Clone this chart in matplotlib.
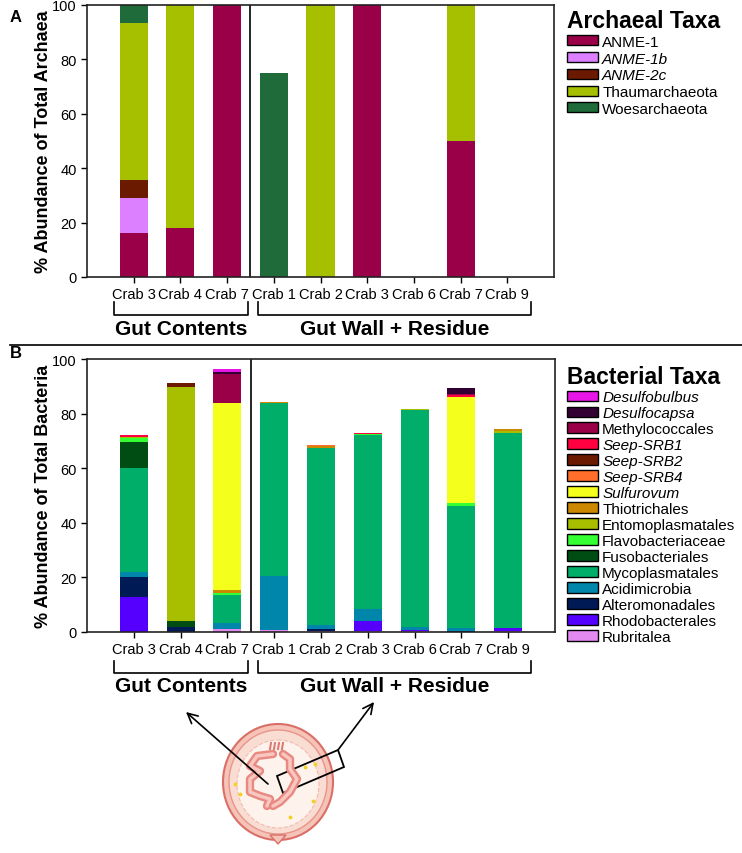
#!/usr/bin/env python3

'''Stacked bar plots of archaeal and bacterial taxa in crab gut samples.'''

import numpy as np
import matplotlib as mpl
import matplotlib.pyplot as plt
from matplotlib.patches import Ellipse, Polygon, Patch

# sample labels (3 gut contents, 6 gut wall + residue)
samples = ['Crab 3', 'Crab 4', 'Crab 7', 'Crab 1', 'Crab 2', 'Crab 3',
           'Crab 6', 'Crab 7', 'Crab 9']

# archaea, % of total, stacked bottom -> top in this order
arch_taxa = ['ANME-1', 'ANME-1b', 'ANME-2c', 'Thaumarchaeota', 'Woesarchaeota']
anme1 = [16, 18, 100, 0, 0, 100, 0, 50, 0]
anme1b = [13, 0, 0, 0, 0, 0, 0, 0, 0]
anme2c = [6.5, 0, 0, 0, 0, 0, 0, 0, 0]
thaum = [58, 82, 0, 0, 100, 0, 0, 50, 0]
woes = [6.5, 0, 0, 75, 0, 0, 0, 0, 0]
arch_colors = ['#990047', '#dd80ff', '#6b1a00', '#a6c000', '#1f6b3a']
arch_italic = ['ANME-1b', 'ANME-2c']

# bacteria, % of total, listed in legend order (stacked in reverse)
bact_taxa = ['Desulfobulbus', 'Desulfocapsa', 'Methylococcales', 'Seep-SRB1',
             'Seep-SRB2', 'Seep-SRB4', 'Sulfurovum', 'Thiotrichales',
             'Entomoplasmatales', 'Flavobacteriaceae', 'Fusobacteriales',
             'Mycoplasmatales', 'Acidimicrobia', 'Alteromonadales',
             'Rhodobacterales', 'Rubritalea']
desulfobulbus = [0, 0, 1.3, 0, 0, 0, 0, 0, 0]
desulfocapsa = [0, 0, 0.7, 0, 0, 0, 0, 2.0, 0]
methylococcales = [0, 0, 10.6, 0, 0, 0, 0, 0.5, 0]
seep_srb1 = [0.5, 0, 0, 0, 0, 0.3, 0, 0.6, 0]
seep_srb2 = [0, 1.4, 0, 0, 0, 0, 0, 0, 0]
seep_srb4 = [0, 0, 0, 0, 0.3, 0, 0, 0, 0]
sulfurovum = [0, 0, 68.6, 0, 0, 0.3, 0, 39.1, 0]
thiotrichales = [0, 0, 0.9, 0.3, 0.6, 0, 0, 0, 0.8]
entomoplasmatales = [0.5, 85.9, 0, 0, 0, 0, 0.3, 0, 0.5]
flavobacteriaceae = [1.3, 0, 1.0, 0, 0, 0.4, 0, 0.8, 0]
fusobacteriales = [9.8, 1.9, 0, 0, 0, 0, 0, 0, 0]
mycoplasmatales = [37.9, 0, 10.1, 63.5, 64.8, 63.6, 79.6, 44.8, 71.7]
acidimicrobia = [1.8, 0, 2.3, 19.9, 1.7, 4.2, 0.9, 1.0, 0]
alteromonadales = [7.2, 2.0, 0, 0, 0.7, 0, 0, 0.5, 0]
rhodobacterales = [13.0, 0, 0, 0, 0, 3.7, 0.5, 0, 0.8]
rubritalea = [0, 0, 1.0, 0.6, 0.3, 0.5, 0.3, 0, 0.5]
bact_colors = ['#e817e8', '#330033', '#990047', '#ff0040', '#6b1a00',
               '#ff6e2b', '#f5ff1c', '#cc8800', '#a8bf00', '#33ff33',
               '#004d14', '#00ad69', '#0086aa', '#001a55', '#5500ff',
               '#e28af0']
bact_italic = ['Desulfobulbus', 'Desulfocapsa', 'Seep-SRB1', 'Seep-SRB2',
               'Seep-SRB4', 'Sulfurovum']


def stacked(ax, series, colors):
    '''Stack the series bottom -> top on ax.'''
    x = np.arange(1, len(samples) + 1)
    bottom = np.zeros(len(samples))
    for vals, col in zip(series, colors):
        vals = np.array(vals, dtype=float)
        ax.bar(x, vals, 0.6, bottom=bottom, color=col, linewidth=0)
        bottom += vals


def style_axes(ax, ylabel):
    ax.set_xlim(0, 10)
    ax.set_ylim(0, 100)
    ax.set_xticks(np.arange(1, len(samples) + 1))
    ax.set_xticklabels(samples, fontsize=10.5)
    ax.set_yticks(np.arange(0, 101, 20))
    ax.tick_params(axis='y', labelsize=10.5)
    ax.tick_params(direction='out', length=4, width=1)
    ax.axvline(3.5, color='black', lw=1.2)
    for sp in ax.spines.values():
        sp.set_linewidth(1.2)
        sp.set_color('#222222')
    ax.set_ylabel(ylabel, fontsize=13, fontweight='bold')
    ax.yaxis.set_label_coords(-0.074, 0.5)


def taxa_legend(fig, taxa, colors, italic, title, y, spacing):
    handles = [Patch(facecolor=c, edgecolor='black', lw=1) for c in colors]
    leg = fig.legend(handles, taxa, loc='upper left', frameon=False,
                     bbox_to_anchor=(567 / 742, 1 - y / 854), fontsize=11,
                     title=title, borderpad=0, handlelength=2.0,
                     handleheight=0.65, handletextpad=0.3,
                     labelspacing=spacing, borderaxespad=0)
    leg.get_title().set_fontsize(16.5)
    leg.get_title().set_fontweight('bold')
    leg._legend_box.align = 'left'
    for t in leg.get_texts():
        if t.get_text() in italic:
            t.set_style('italic')
    return leg


def do_plotting(savefig='out.png', dpi=100, l=742, w=854):
    mpl.rcParams['font.family'] = ['Liberation Sans', 'DejaVu Sans']

    fig = plt.figure(figsize=(l / dpi, w / dpi), dpi=dpi)

    ax_a = fig.add_axes([87 / l, 1 - 278 / w, 467 / l, 272 / w])
    stacked(ax_a, [anme1, anme1b, anme2c, thaum, woes], arch_colors)
    style_axes(ax_a, '% Abundance of Total Archaea')

    ax_b = fig.add_axes([87 / l, 1 - 633 / w, 468 / l, 273 / w])
    bact_series = [desulfobulbus, desulfocapsa, methylococcales, seep_srb1,
                   seep_srb2, seep_srb4, sulfurovum, thiotrichales,
                   entomoplasmatales, flavobacteriaceae, fusobacteriales,
                   mycoplasmatales, acidimicrobia, alteromonadales,
                   rhodobacterales, rubritalea]
    stacked(ax_b, bact_series[::-1], bact_colors[::-1])
    style_axes(ax_b, '% Abundance of Total Bacteria')

    taxa_legend(fig, arch_taxa, arch_colors, arch_italic, 'Archaeal Taxa',
                10, 0.18)
    taxa_legend(fig, bact_taxa, bact_colors, bact_italic, 'Bacterial Taxa',
                366, 0.13)

    # overlay in pixel coordinates for brackets, labels and the drawing
    ov = fig.add_axes([0, 0, 1, 1], zorder=5)
    ov.set_xlim(0, l)
    ov.set_ylim(w, 0)
    ov.axis('off')
    ov.patch.set_alpha(0)

    for top, bot, txt_y in [(303, 316, 330), (662, 674, 687)]:
        for x0, x1, name in [(114, 248, 'Gut Contents'),
                             (258, 531, 'Gut Wall + Residue')]:
            ov.plot([x0, x0, x1, x1], [top, bot, bot, top], color='black',
                    lw=1.2)
            ov.text((x0 + x1) / 2, txt_y, name, ha='center', va='center',
                    fontsize=15, fontweight='bold')

    ov.plot([10, 742], [346, 346], color='black', lw=1.2)
    ov.text(10, 17, 'A', fontsize=12, fontweight='bold', va='center')
    ov.text(10, 354, 'B', fontsize=12, fontweight='bold', va='center')

    # crab gut cross-section sketch
    cx, cy = 278, 783
    ov.add_patch(Ellipse((cx, cy), 110, 116, facecolor='#f5c3b8',
                         edgecolor='#d96f66', lw=1.5))
    ov.add_patch(Ellipse((cx, cy), 98, 104, facecolor='#f9dcd2',
                         edgecolor='#e8958a', lw=1))
    ov.add_patch(Ellipse((cx, cy + 2), 82, 88, facecolor='#fdf2ec',
                         edgecolor='#f2bbb0', lw=0.8, ls='--'))
    ov.add_patch(Polygon([(270, 836), (286, 836), (278, 845)],
                         facecolor='#f5c3b8', edgecolor='#d96f66', lw=1))
    left_gut = [(273, 755), (257, 757), (250, 767), (260, 772), (250, 780),
                (250, 793), (260, 797), (270, 800), (267, 807)]
    right_gut = [(283, 755), (290, 760), (290, 770), (297, 780), (290, 793),
                 (280, 803), (273, 807)]
    for path in [left_gut, right_gut]:
        px, py = zip(*path)
        ov.plot(px, py, color='#e88a82', lw=6, solid_capstyle='round')
        ov.plot(px, py, color='#f8c8c0', lw=2.5, solid_capstyle='round')
    for vx in [270, 274, 278, 282]:
        ov.plot([vx, vx + 1], [750, 744], color='#e07a72', lw=1.5)
    dots_x = [305, 315, 235, 240, 313, 290]
    dots_y = [768, 765, 785, 795, 802, 818]
    ov.scatter(dots_x, dots_y, s=3, color='#f5d020', zorder=6)

    ov.add_patch(Polygon([(277, 777), (338, 751), (344, 768), (283, 794)],
                         closed=True, fill=False, edgecolor='black', lw=1.3))
    arrow = dict(arrowstyle='->', color='black', lw=1.2,
                 mutation_scale=18, shrinkA=0, shrinkB=0)
    ov.annotate('', xy=(186, 713), xytext=(268, 785), arrowprops=arrow)
    ov.annotate('', xy=(374, 703), xytext=(338, 751), arrowprops=arrow)

    plt.savefig(savefig, dpi=dpi)
    plt.close()


def main():
    do_plotting()


if __name__ == '__main__':
    main()
